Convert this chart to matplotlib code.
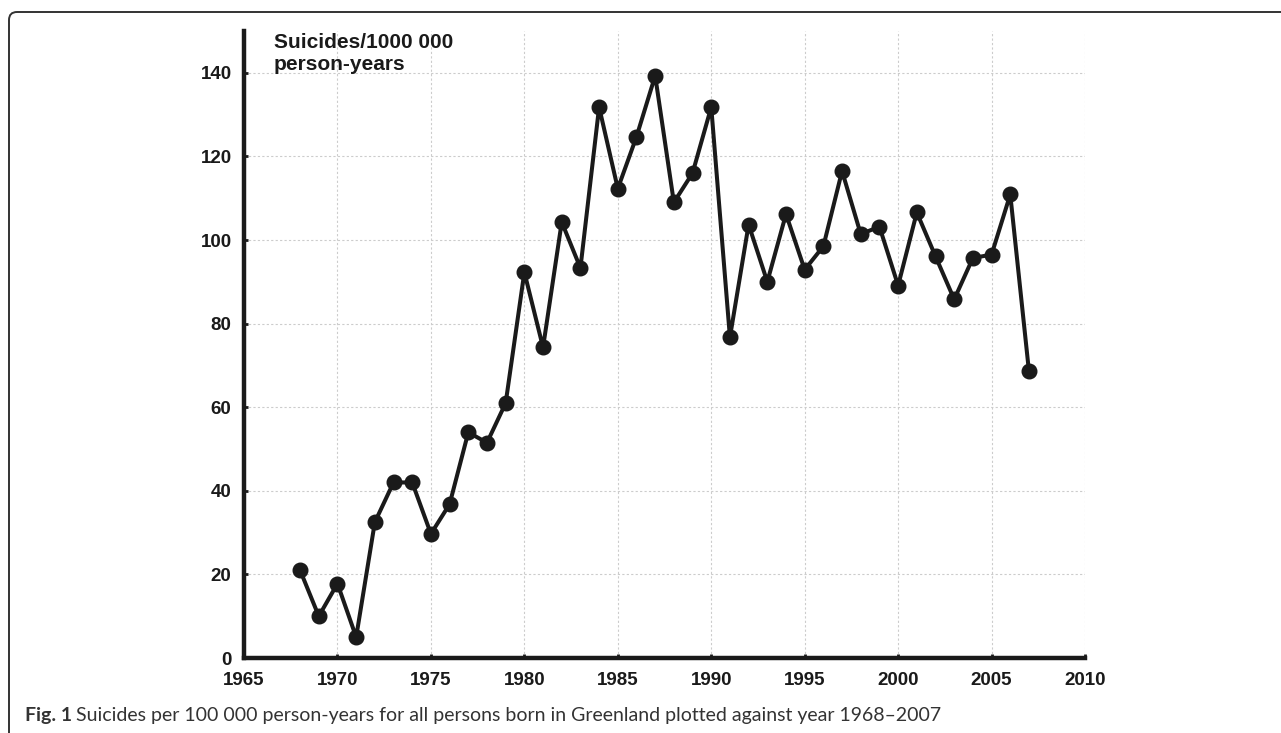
import matplotlib
matplotlib.use("Agg")
import matplotlib.pyplot as plt
from matplotlib.path import Path
from matplotlib.patches import PathPatch

years = list(range(1968, 2008))
rates = [21.0, 10.0, 17.8, 5.0, 32.5, 42.0, 42.0, 29.7, 36.8, 54.0,
         51.5, 61.0, 92.3, 74.3, 104.3, 93.3, 131.8, 112.3, 124.7, 139.3,
         109.0, 116.0, 131.8, 76.7, 103.7, 90.0, 106.2, 92.9, 98.5, 116.5,
         101.4, 103.2, 89.1, 106.6, 96.1, 85.8, 95.7, 96.5, 110.9, 68.6]

xticks = list(range(1965, 2011, 5))
yticks = list(range(0, 141, 20))

plt.rcParams['font.family'] = ['Liberation Sans', 'DejaVu Sans']

fig = plt.figure(figsize=(12.81, 7.33), dpi=100)
ax = fig.add_axes([0.1905, 0.1023, 0.6565, 0.8554])

ax.plot(years, rates, color="#1a1a1a", linewidth=2.9, marker="o",
        markersize=10.5, zorder=3, clip_on=False)

ax.set_xlim(1965, 2010)
ax.set_ylim(0, 150)
ax.set_xticks(xticks)
ax.set_yticks(yticks)
ax.grid(True, color="#cccccc", linestyle=(0, (2, 2)), linewidth=0.8)

for s in ["top", "right"]:
    ax.spines[s].set_visible(False)
for s in ["left", "bottom"]:
    ax.spines[s].set_linewidth(3.2)
    ax.spines[s].set_color("#1a1a1a")

ax.tick_params(direction="in", length=3, width=2, colors="#1a1a1a",
               labelsize=13.5)
ax.tick_params(axis="x", pad=10)
ax.tick_params(axis="y", pad=9)
for lab in ax.get_xticklabels() + ax.get_yticklabels():
    lab.set_fontweight("bold")

ax.text(1966.6, 149.6, "Suicides/1000 000\nperson-years", fontsize=15,
        fontweight="bold", color="#1a1a1a", va="top", ha="left",
        linespacing=1.22)

fig.text(25 / 1281, 1 - 715 / 733, "Fig. 1", fontsize=14, fontweight="bold",
         color="#333333", family="Lato", va="center")
fig.text(76 / 1281, 1 - 715 / 733,
         "Suicides per 100 000 person-years for all persons born in Greenland plotted against year 1968\u20132007",
         fontsize=14, color="#333333", family="Lato", va="center")

# frame: left and top edges with a rounded corner
x0, y0 = 9 / 1281, 1 - 12 / 733
rx, ry = 8 / 1281, 8 / 733
verts = [(x0, 0), (x0, y0 - ry), (x0, y0), (x0 + rx, y0), (1, y0)]
codes = [Path.MOVETO, Path.LINETO, Path.CURVE3, Path.CURVE3, Path.LINETO]
fig.patches.append(PathPatch(Path(verts, codes), transform=fig.transFigure,
                             fill=False, edgecolor="#333333", linewidth=1.4))

fig.savefig("out.png", dpi=100)
